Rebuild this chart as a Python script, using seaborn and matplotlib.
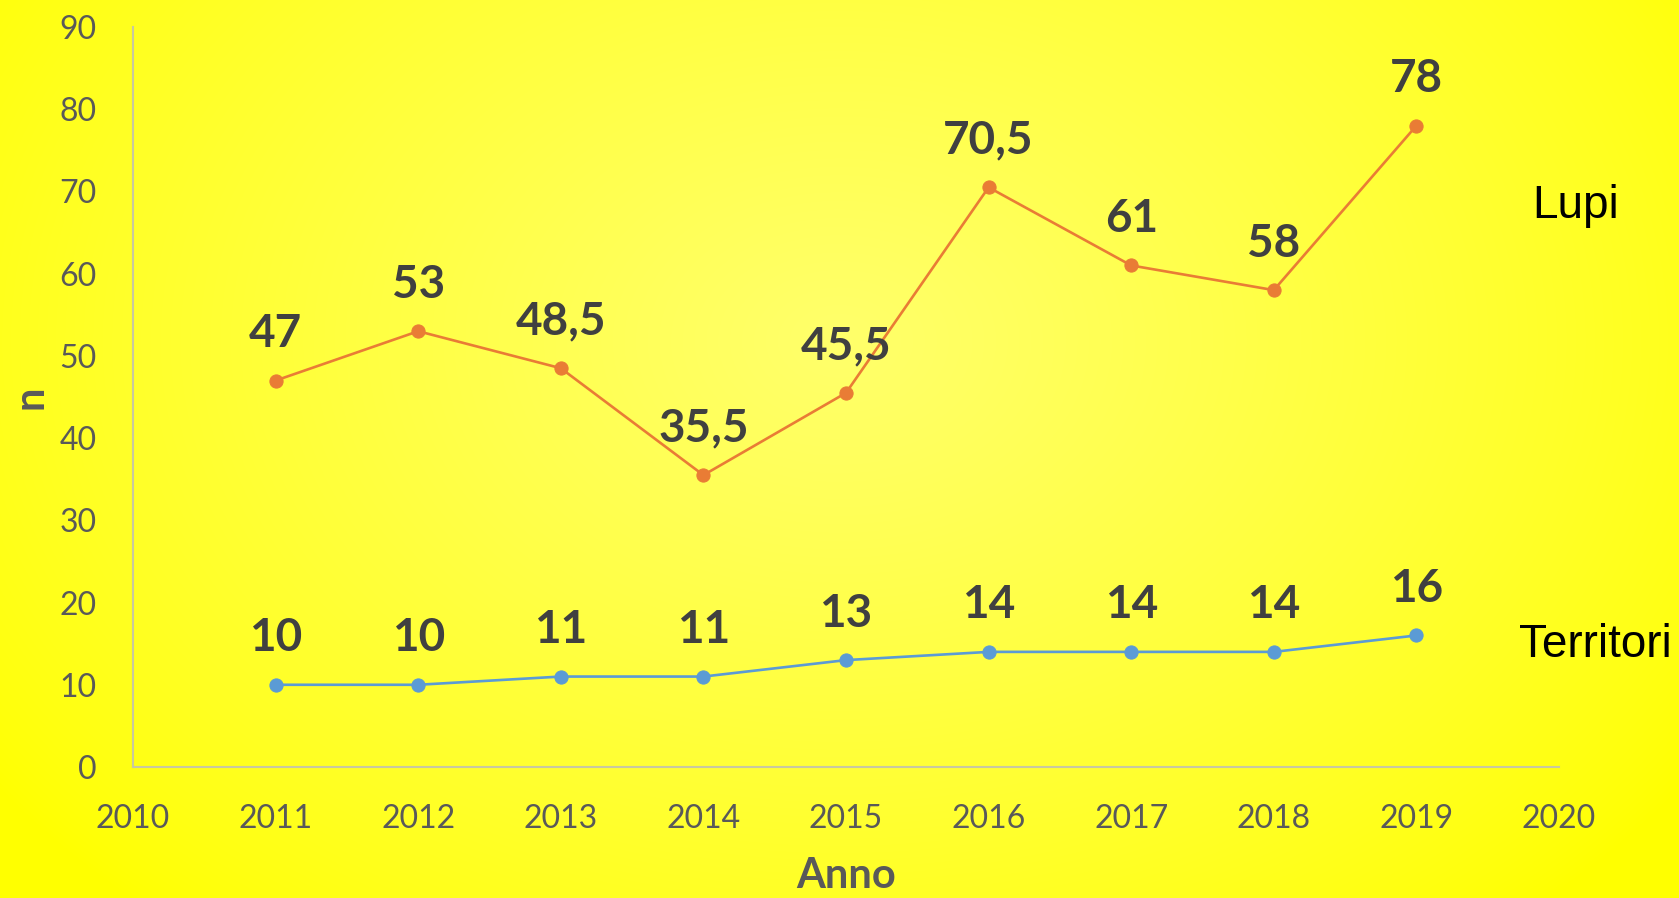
import numpy as np
import pandas as pd
import seaborn as sns
import matplotlib.pyplot as plt

# data
anni = [2011, 2012, 2013, 2014, 2015, 2016, 2017, 2018, 2019]
lupi = [47, 53, 48.5, 35.5, 45.5, 70.5, 61, 58, 78]
territori = [10, 10, 11, 11, 13, 14, 14, 14, 16]
serie = ['Lupi', 'Territori']
colori = {'Lupi': '#E97C35', 'Territori': '#5B9BD5'}
x_ticks = list(range(2010, 2021))
y_ticks = list(range(0, 91, 10))

df = pd.DataFrame({
    'Anno': anni + anni,
    'n': lupi + territori,
    'serie': [serie[0]] * len(anni) + [serie[1]] * len(anni),
})

sns.set_style('white')
plt.rcParams['font.family'] = ['Lato', 'DejaVu Sans']

W, H = 1679, 898
fig = plt.figure(figsize=(W / 100, H / 100), dpi=100)

# yellow radial background, paler in the middle
bg = fig.add_axes([0, 0, 1, 1], zorder=0)
yy, xx = np.mgrid[0:1:H * 1j, 0:1:W * 1j]
r = np.sqrt(((xx - 0.5) / 0.62) ** 2 + ((yy - 0.38) / 0.85) ** 2)
b = 0.42 * np.clip(1 - r, 0, 1) ** 0.8
img = np.dstack([np.ones_like(b), np.ones_like(b), b])
bg.imshow(img, aspect='auto', extent=[0, 1, 0, 1])
bg.set_axis_off()

ax = fig.add_axes([133 / W, 1 - 767 / H, (1559 - 133) / W, (767 - 27) / H], zorder=1)
ax.patch.set_alpha(0)

sns.lineplot(data=df, x='Anno', y='n', hue='serie', palette=colori,
             marker='o', markersize=9.5, linewidth=1.9, legend=False, ax=ax)
for line in ax.lines:
    line.set_markeredgecolor(line.get_color())

for nome, valori in zip(serie, [lupi, territori]):
    for x, y in zip(anni, valori):
        ax.annotate(f'{y:g}'.replace('.', ','), (x, y), xytext=(0, 33.5),
                    textcoords='offset points', ha='center', va='center',
                    fontsize=33, fontweight='bold', color='#404040')

ax.set_xlim(2010, 2020)
ax.set_ylim(0, 90)
ax.set_xticks(x_ticks)
ax.set_yticks(y_ticks)
ax.tick_params(length=0, labelsize=23, labelcolor='#595959')
ax.tick_params(axis='x', pad=27)
ax.tick_params(axis='y', pad=26)

for s in ['top', 'right']:
    ax.spines[s].set_visible(False)
for s in ['left', 'bottom']:
    ax.spines[s].set_color('#c8c8a0')
    ax.spines[s].set_linewidth(1.5)

ax.set_xlabel('Anno', fontsize=30, fontweight='bold', color='#595959')
ax.set_ylabel('n', fontsize=30, fontweight='bold', color='#595959')
ax.xaxis.set_label_coords(0.5, (767 - 888) / 740)
ax.xaxis.label.set_va('baseline')
ax.yaxis.set_label_coords(-0.072, 0.5)
ax.yaxis.label.set_va('center')

fig.text(1576 / W, 1 - 206 / H, 'Lupi', family='Liberation Sans',
         fontsize=33, ha='center', va='center', color='black')
fig.text(1595 / W, 1 - 645 / H, 'Territori', family='Liberation Sans',
         fontsize=33, ha='center', va='center', color='black')

fig.savefig('out.png', dpi=100)
